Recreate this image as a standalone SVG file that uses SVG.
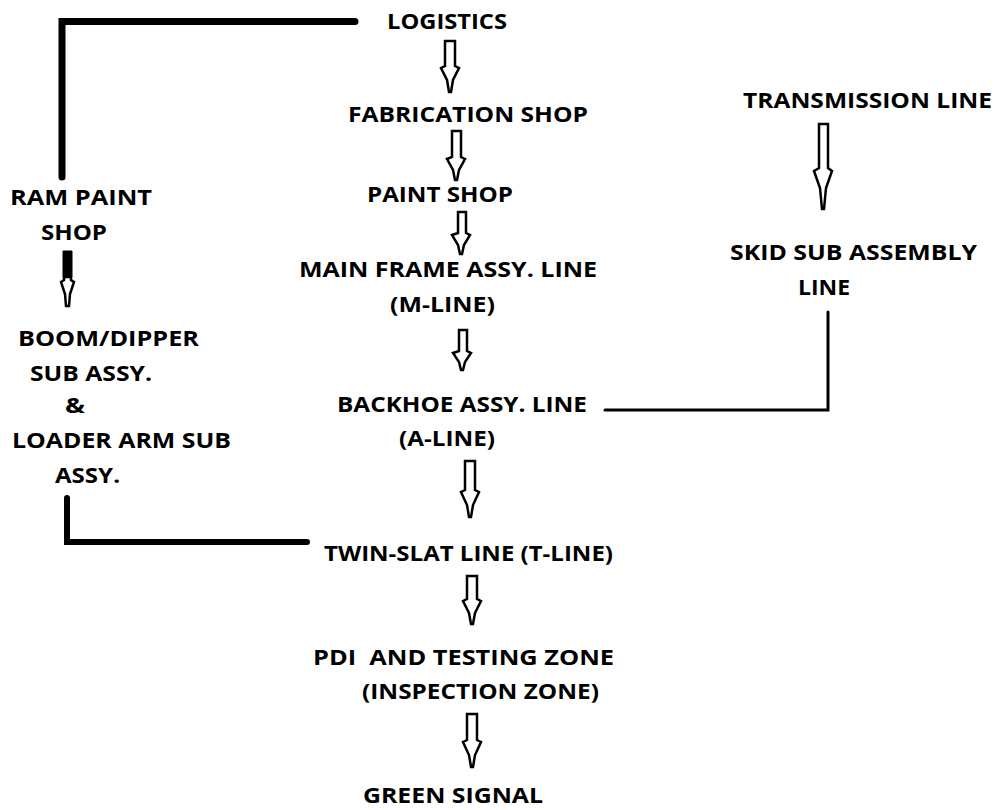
<svg xmlns="http://www.w3.org/2000/svg" width="998" height="810" viewBox="0 0 998 810">
<style>
text{font-family:"Open Sans","Liberation Sans",sans-serif;font-weight:bold;font-size:22px;fill:#000}
.ha{fill:#fff;stroke:#000;stroke-width:2.5;stroke-linejoin:miter}
.c{fill:none;stroke:#000;stroke-linecap:round;stroke-linejoin:miter}
</style>
<rect width="998" height="810" fill="#fff"/>
<g id="connectors">
<path class="c" stroke-width="7" d="M355,21.5 H62 V177"/>
<path class="c" stroke-width="3" stroke-linecap="butt" d="M605,410 H828 V312"/>
<path class="c" stroke-width="6" d="M67,498 V542 H307"/>
<path class="ha" d="M445,41 H455 V66 L459,68 L453,80 L451,92 L449,92 L447,80 L441,68 L445,66 Z"/>
<path class="ha" d="M452,131 H461 V157 L465,159 L459,170 L457,180 L455,180 L453,170 L447,159 L452,157 Z"/>
<path class="ha" d="M458,212 H466 V233 L470,235 L464,245 L462,254 L460,254 L458,245 L452,235 L458,233 Z"/>
<path class="ha" d="M459,330 H467 V351 L471,353 L465,362 L463,370 L461,370 L459,362 L453,353 L459,351 Z"/>
<path class="ha" d="M465,461 H475 V490 L479,492 L473,505 L471,517 L469,517 L467,505 L461,492 L465,490 Z"/>
<path class="ha" d="M467,576 H477 V599 L481,601 L475,613 L473,624 L471,624 L469,613 L463,601 L467,599 Z"/>
<path class="ha" d="M467,714 H477 V740 L481,742 L475,755 L473,767 L471,767 L469,755 L463,742 L467,740 Z"/>
<path class="ha" d="M819,124 H828 V168 L832,171 L826,188 L824,209 L822,209 L820,188 L814,171 L819,168 Z"/>
<path d="M63,251 H72 V277 H63 Z" fill="#000" stroke="#000" stroke-width="1"/>
<path class="ha" d="M64,277 H71 V280 L74,282 L70,294 L69,306 L66,306 L65,294 L61,282 L64,280 Z"/>
</g>
<g id="logistics"><text x="387" y="29" textLength="120" lengthAdjust="spacingAndGlyphs">LOGISTICS</text></g>
<g id="fabrication"><text x="348" y="122" textLength="240" lengthAdjust="spacingAndGlyphs">FABRICATION SHOP</text></g>
<g id="paint"><text x="367" y="202" textLength="146" lengthAdjust="spacingAndGlyphs">PAINT SHOP</text></g>
<g id="mline"><text x="299" y="277" textLength="298" lengthAdjust="spacingAndGlyphs">MAIN FRAME ASSY. LINE</text>
<text x="390" y="312" textLength="105" lengthAdjust="spacingAndGlyphs">(M-LINE)</text></g>
<g id="aline"><text x="337" y="412" textLength="250" lengthAdjust="spacingAndGlyphs">BACKHOE ASSY. LINE</text>
<text x="399" y="446" textLength="96" lengthAdjust="spacingAndGlyphs">(A-LINE)</text></g>
<g id="tline"><text x="324" y="561" textLength="289" lengthAdjust="spacingAndGlyphs">TWIN-SLAT LINE (T-LINE)</text></g>
<g id="pdi"><text x="313" y="665" textLength="301" lengthAdjust="spacingAndGlyphs" xml:space="preserve">PDI  AND TESTING ZONE</text>
<text x="362" y="699" textLength="237" lengthAdjust="spacingAndGlyphs">(INSPECTION ZONE)</text></g>
<g id="green"><text x="363" y="803" textLength="180" lengthAdjust="spacingAndGlyphs">GREEN SIGNAL</text></g>
<g id="transmission"><text x="743" y="108" textLength="249" lengthAdjust="spacingAndGlyphs">TRANSMISSION LINE</text></g>
<g id="skid"><text x="730" y="260" textLength="247" lengthAdjust="spacingAndGlyphs">SKID SUB ASSEMBLY</text>
<text x="798" y="295" textLength="52" lengthAdjust="spacingAndGlyphs">LINE</text></g>
<g id="ram"><text x="10" y="205" textLength="142" lengthAdjust="spacingAndGlyphs">RAM PAINT</text>
<text x="41" y="240" textLength="66" lengthAdjust="spacingAndGlyphs">SHOP</text></g>
<g id="boom"><text x="18" y="346" textLength="181" lengthAdjust="spacingAndGlyphs">BOOM/DIPPER</text>
<text x="30" y="381" textLength="122" lengthAdjust="spacingAndGlyphs">SUB ASSY.</text>
<text x="65" y="413" textLength="20" lengthAdjust="spacingAndGlyphs">&amp;</text>
<text x="12" y="448" textLength="219" lengthAdjust="spacingAndGlyphs">LOADER ARM SUB</text>
<text x="55" y="483" textLength="65" lengthAdjust="spacingAndGlyphs">ASSY.</text></g>
</svg>
